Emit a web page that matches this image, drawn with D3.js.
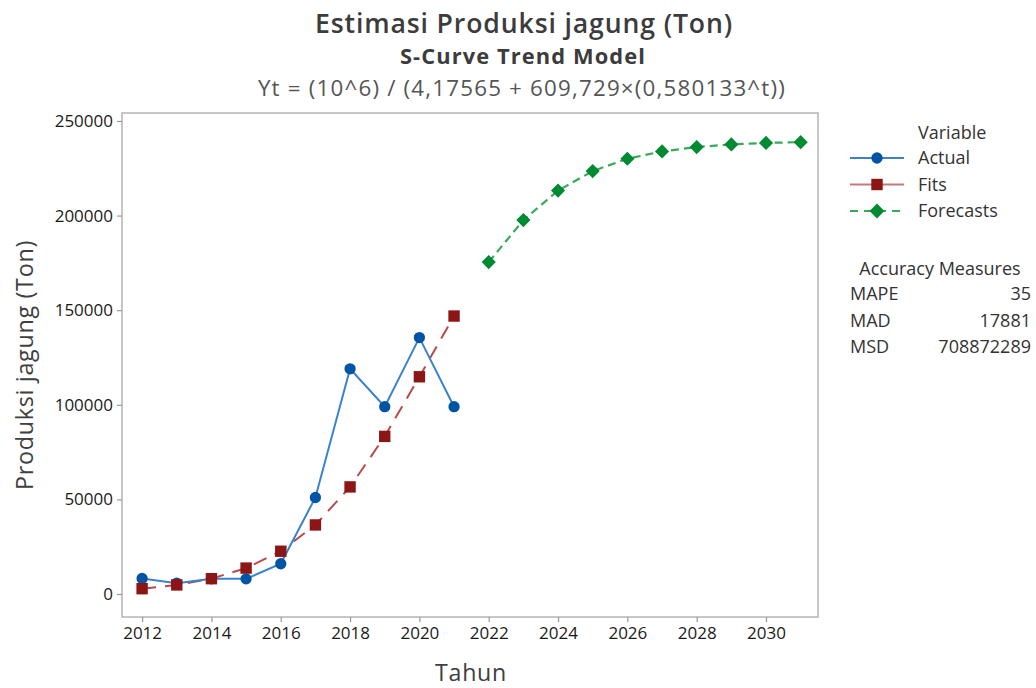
<!DOCTYPE html>
<html><head><meta charset="utf-8">
<script src="https://cdn.jsdelivr.net/npm/d3@7"></script>
<style>body{margin:0;background:#fff}svg{display:block;font-family:"Open Sans","Noto Sans",sans-serif}svg text{font-family:"Open Sans","Noto Sans",sans-serif}</style>
</head><body><svg id="c" width="1036" height="688"></svg>
<script>
const fitYears = [2012,2013,2014,2015,2016,2017,2018,2019,2020,2021];
const actualValues = [8200,5700,8000,8000,16000,51000,119000,99000,135500,99000];
const fitValues = [2800,4800,8100,13700,22600,36500,56600,83300,114800,146900];
const forecastYears = [2022,2023,2024,2025,2026,2027,2028,2029,2030,2031];
const forecastValues = [175400,197600,213200,223500,230000,233900,236200,237600,238400,238800];
const xTicks = [2012,2014,2016,2018,2020,2022,2024,2026,2028,2030];
const yTicks = [0,50000,100000,150000,200000,250000];
const accuracyLabels = ["MAPE","MAD","MSD"];
const accuracyValues = ["35","17881","708872289"];

const svg = d3.select("#c");
const L=122,R=818,T=113,B=617;
const x = d3.scaleLinear().domain([2011.42,2031.5]).range([L,R]);
const y = d3.scaleLinear().domain([-12150,254200]).range([B,T]);

// hybrid fit: part font-size, part letter-spacing
function fitWidth(sel, target){
  const fsz = parseFloat(sel.style("font-size"));
  const w = sel.node().getComputedTextLength();
  const k = Math.sqrt(target/w);
  sel.style("font-size", (fsz*k).toFixed(2)+"px");
  const w2 = sel.node().getComputedTextLength();
  sel.attr("letter-spacing", ((target-w2)/sel.text().length).toFixed(2));
}

svg.append("rect").attr("x",L).attr("y",T).attr("width",R-L).attr("height",B-T)
  .attr("fill","none").attr("stroke","#b4b4b4").attr("stroke-width",1.5);

const gx = svg.append("g").attr("transform",`translate(0,${B})`)
  .call(d3.axisBottom(x).tickValues(xTicks).tickFormat(d3.format("d")).tickSize(5).tickPadding(5));
const gy = svg.append("g").attr("transform",`translate(${L},0)`)
  .call(d3.axisLeft(y).tickValues(yTicks).tickFormat(d3.format("d")).tickSize(5).tickPadding(4));
[gx,gy].forEach(g=>{
  g.attr("font-family",null).attr("font-size",null);
  g.select(".domain").remove();
  g.selectAll(".tick line").attr("stroke","#9a9a9a").attr("stroke-width",1.2);
  g.selectAll(".tick text").attr("fill","#1a1a1a").style("font-size","17px");
});

const line = d3.line().x(d=>x(d[0])).y(d=>y(d[1]));
const actual = fitYears.map((yr,i)=>[yr,actualValues[i]]);
const fits = fitYears.map((yr,i)=>[yr,fitValues[i]]);
const fc = forecastYears.map((yr,i)=>[yr,forecastValues[i]]);

svg.append("path").datum(fits).attr("d",line).attr("fill","none")
  .attr("stroke","#b84a4a").attr("stroke-width",2).attr("stroke-dasharray","14,9");
svg.append("path").datum(actual).attr("d",line).attr("fill","none")
  .attr("stroke","#3b82cc").attr("stroke-width",2);
svg.append("path").datum(fc).attr("d",line).attr("fill","none")
  .attr("stroke","#3aa95a").attr("stroke-width",2.2).attr("stroke-dasharray","8,5");

const sq = d3.symbol().type(d3.symbolSquare).size(130);
const ci = d3.symbol().type(d3.symbolCircle).size(100);
const di = d3.symbol().type(d3.symbolSquare).size(100);
svg.append("g").selectAll("path").data(actual).join("path")
  .attr("d",ci).attr("transform",d=>`translate(${x(d[0])},${y(d[1])})`).attr("fill","#0054a6");
svg.append("g").selectAll("path").data(fits).join("path")
  .attr("d",sq).attr("transform",d=>`translate(${x(d[0])},${y(d[1])})`).attr("fill","#8c1515");
svg.append("g").selectAll("path").data(fc).join("path")
  .attr("d",di).attr("transform",d=>`translate(${x(d[0])},${y(d[1])}) rotate(45)`).attr("fill","#008a32");

// titles
const t1 = svg.append("text").attr("x",524).attr("y",33).attr("text-anchor","middle")
  .attr("fill","#3c3c3c").style("font-size","25px").style("font-weight","600").text("Estimasi Produksi jagung (Ton)");
fitWidth(t1, 418);
const t2 = svg.append("text").attr("x",523).attr("y",64).attr("text-anchor","middle")
  .attr("fill","#3c3c3c").style("font-size","20px").style("font-weight","bold").text("S-Curve Trend Model");
fitWidth(t2, 246);
const t3 = svg.append("text").attr("x",522).attr("y",96).attr("text-anchor","middle")
  .attr("fill","#555").style("font-size","20px").text("Yt = (10^6) / (4,17565 + 609,729×(0,580133^t))");
fitWidth(t3, 528);

const ya = svg.append("text").attr("transform","translate(33,365) rotate(-90)").attr("text-anchor","middle")
  .attr("fill","#404040").style("font-size","22px").text("Produksi jagung (Ton)");
fitWidth(ya, 250);
const xa = svg.append("text").attr("x",471).attr("y",681).attr("text-anchor","middle")
  .attr("fill","#404040").style("font-size","22px").text("Tahun");
fitWidth(xa, 72);

// legend
const lg = svg.append("g");
const fs = "18px";
lg.append("text").attr("x",918).attr("y",139).attr("fill","#333").style("font-size",fs).text("Variable");
const items = [
  {name:"Actual",color:"#3b82cc",mk:ci,mc:"#0054a6",dash:null,rot:0},
  {name:"Fits",color:"#c87878",mk:sq,mc:"#8c1515",dash:null,rot:0},
  {name:"Forecasts",color:"#3aa95a",mk:d3.symbol().type(d3.symbolSquare).size(110),mc:"#008a32",dash:"8,6",rot:45}
];
items.forEach((it,i)=>{
  const yy = 158 + i*26.5;
  lg.append("line").attr("x1",850).attr("x2",904).attr("y1",yy).attr("y2",yy)
    .attr("stroke",it.color).attr("stroke-width",1.8).attr("stroke-dasharray",it.dash);
  lg.append("path").attr("d",it.mk).attr("transform",`translate(877,${yy}) rotate(${it.rot})`).attr("fill",it.mc);
  lg.append("text").attr("x",918).attr("y",yy+6).attr("fill","#333").style("font-size",fs).text(it.name);
});
lg.append("text").attr("x",940).attr("y",275).attr("text-anchor","middle").attr("fill","#333")
  .style("font-size",fs).text("Accuracy Measures");
accuracyLabels.forEach((lab,i)=>{
  const yy = 300 + i*26.5;
  lg.append("text").attr("x",850).attr("y",yy).attr("fill","#333").style("font-size",fs).text(lab);
  lg.append("text").attr("x",1031).attr("y",yy).attr("text-anchor","end").attr("fill","#333").style("font-size",fs).text(accuracyValues[i]);
});
</script></body></html>
